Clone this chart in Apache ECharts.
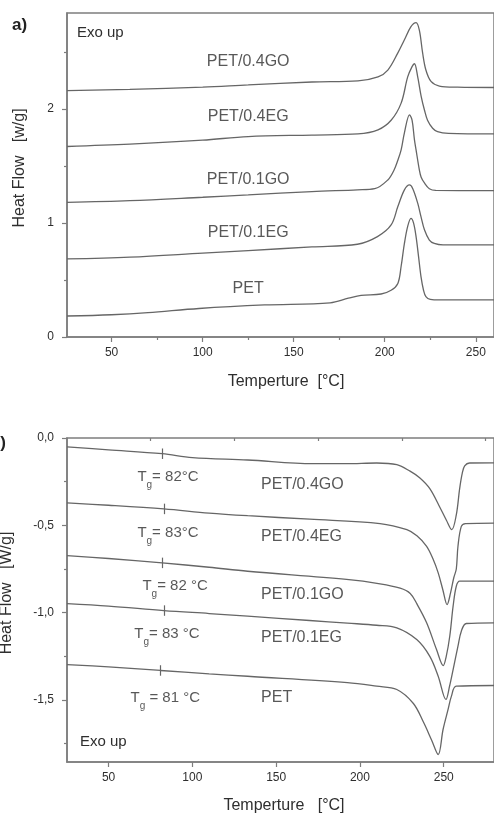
<!DOCTYPE html>
<html>
<head>
<meta charset="utf-8">
<title>DSC curves</title>
<script src="https://cdn.jsdelivr.net/npm/echarts@6/dist/echarts.min.js"></script>
<style>
html, body { margin: 0; padding: 0; background: #fff; }
#chart { width: 494px; height: 816px; }
</style>
</head>
<body>
<div id="chart"></div>
<script>
// ---- panel a) cooling, [temperature, heat flow] ----
const namesA = ['PET/0.4GO', 'PET/0.4EG', 'PET/0.1GO', 'PET/0.1EG', 'PET'];
const a04GO = [[25.5,2.16],[60,2.17],[100,2.19],[125,2.21],[160,2.235],[185.3,2.245],[196.3,2.28],[201.7,2.34],[207.2,2.49],[210.8,2.605],[214.4,2.72],[217.2,2.755],[219,2.69],[220.8,2.49],[222.6,2.34],[225.4,2.24],[230,2.2],[240,2.19],[260,2.187]];
const a04EG = [[25.5,1.67],[60,1.69],[100,1.725],[125,1.757],[160,1.77],[185.3,1.78],[196.3,1.816],[203.5,1.9],[209,2.05],[212.6,2.28],[215,2.37],[216.3,2.395],[218.1,2.28],[220,2.11],[221.8,1.99],[223.5,1.9],[226.3,1.83],[229,1.8],[235,1.785],[260,1.78]];
const a01GO = [[25.5,1.18],[60,1.195],[100,1.225],[125,1.245],[160,1.275],[185,1.29],[194.5,1.3],[201.7,1.377],[205,1.46],[207.2,1.55],[209,1.64],[210.8,1.79],[213.6,1.947],[215,1.9],[216.3,1.73],[217.2,1.64],[219,1.465],[220,1.4],[221.8,1.35],[224.5,1.3],[228,1.285],[260,1.283]];
const a01EG = [[25.5,0.684],[60,0.7],[100,0.735],[125,0.757],[160,0.79],[185,0.813],[196,0.88],[203.5,0.982],[207.2,1.143],[210.8,1.29],[213.6,1.333],[215.4,1.3],[218.1,1.173],[219.9,1.055],[221.8,0.94],[224.5,0.85],[227.2,0.82],[232,0.807],[260,0.807]];
const aPET = [[25.5,0.184],[50,0.195],[70,0.213],[98,0.25],[134,0.281],[170,0.3],[180,0.34],[187,0.365],[198,0.377],[203.5,0.41],[207.2,0.47],[209,0.62],[210.8,0.82],[212.6,0.97],[214.4,1.04],[215.8,1.0],[217.2,0.88],[218.6,0.7],[219.9,0.53],[221.3,0.41],[222.6,0.354],[225,0.33],[230,0.325],[260,0.325]];
const labelXA = [125, 125, 125, 125, 125];
const labelYA = [2.41, 1.93, 1.377, 0.912, 0.42];

// ---- panel b) heating ----
const namesB = ['PET/0.4GO', 'PET/0.4EG', 'PET/0.1GO', 'PET/0.1EG', 'PET'];
const b04GO = [[25.2,-0.051],[50,-0.068],[82,-0.09],[100,-0.112],[133,-0.126],[172,-0.147],[192,-0.147],[210,-0.143],[222,-0.153],[229.9,-0.19],[235.8,-0.229],[241.7,-0.29],[247.6,-0.395],[251.6,-0.471],[254.8,-0.525],[257.5,-0.44],[259.5,-0.29],[261.1,-0.2],[262.5,-0.16],[265.4,-0.143],[280,-0.142]];
const b04EG = [[25.2,-0.372],[50,-0.385],[83,-0.406],[110,-0.43],[133,-0.445],[170,-0.465],[212,-0.49],[228,-0.525],[234,-0.56],[239.8,-0.62],[243.5,-0.69],[246.7,-0.772],[249.5,-0.87],[252,-0.954],[254,-0.89],[256,-0.8],[257.5,-0.75],[258.5,-0.62],[260.5,-0.506],[263,-0.49],[280,-0.487]];
const b01GO = [[25.2,-0.673],[50,-0.69],[82,-0.715],[110,-0.74],[133,-0.763],[192,-0.81],[212,-0.835],[224,-0.86],[230,-0.89],[234,-0.95],[239.8,-1.058],[245.7,-1.211],[249.7,-1.303],[251.5,-1.25],[253.6,-1.135],[255.6,-0.963],[257.5,-0.849],[259.5,-0.82],[280,-0.82]];
const b01EG = [[25.2,-0.948],[50,-0.962],[83,-0.988],[110,-1.005],[133,-1.02],[170,-1.045],[192.5,-1.06],[210,-1.072],[222,-1.087],[233.9,-1.154],[241.7,-1.25],[246.7,-1.364],[251.3,-1.497],[253.5,-1.42],[255.6,-1.326],[258.5,-1.192],[260.5,-1.106],[263.5,-1.062],[280,-1.058]];
const bPET = [[25.2,-1.297],[50,-1.31],[81,-1.331],[110,-1.35],[133,-1.364],[192.5,-1.4],[210,-1.421],[222,-1.44],[231.9,-1.52],[237.8,-1.625],[242.8,-1.73],[246.7,-1.812],[249.6,-1.669],[252.6,-1.554],[254.6,-1.478],[257.5,-1.421],[280,-1.417]];
const labelXB = [141, 141, 141, 141, 141];
const labelYB = [-0.267, -0.563, -0.896, -1.142, -1.485];

// glass transition marks
const tgValues = [82, 83, 82, 83, 81];
const tgCurveY = [-0.09, -0.406, -0.715, -0.988, -1.331];
const tgText = ['= 82°C', '= 83°C', '= 82 °C', '= 83 °C', ' = 81 °C'];
const tgLabelX = [67.2, 67.2, 70.2, 65.4, 63.1];
const tgLabelY = [-0.221, -0.541, -0.845, -1.12, -1.486];

// axis ticks
const xMajor = [50, 100, 150, 200, 250];
const xMinorA = [75, 125, 175, 225];
const xMinorB = [75, 125, 175, 225, 275];
const yMajorA = [0, 1, 2];
const yMinorA = [0.5, 1.5, 2.5];
const yMajorB = [0, -0.5, -1, -1.5];
const yMinorB = [-0.25, -0.75, -1.25, -1.75];

const curvesA = [a04GO, a04EG, a01GO, a01EG, aPET];
const curvesB = [b04GO, b04EG, b01GO, b01EG, bPET];

const FONT = "'Liberation Sans', Arial, sans-serif";
const LINE = '#666';
const AXIS = '#7d7d7d';
const TXT = '#2e2e2e';

const chart = echarts.init(document.getElementById('chart'));

const majorX = (min, max, grid) => ({
    type: 'value', gridIndex: grid, min: min, max: max, position: 'bottom',
    axisLine: { show: true, onZero: false, lineStyle: { color: AXIS, width: 1.5 } },
    axisTick: { show: true, customValues: xMajor, length: 5, lineStyle: { color: AXIS, width: 1.2 } },
    axisLabel: { show: true, customValues: xMajor, margin: 10, fontSize: 12, color: TXT, fontFamily: FONT },
    splitLine: { show: false }
});
const minorX = (min, max, grid, vals) => ({
    type: 'value', gridIndex: grid, min: min, max: max, position: 'bottom',
    axisLine: { show: false },
    axisTick: { show: true, customValues: vals, length: 3, lineStyle: { color: AXIS, width: 1.2 } },
    axisLabel: { show: false },
    splitLine: { show: false }
});
const majorY = (min, max, grid, vals, fmt) => ({
    type: 'value', gridIndex: grid, min: min, max: max, position: 'left',
    axisLine: { show: true, onZero: false, lineStyle: { color: AXIS, width: 1.5 } },
    axisTick: { show: true, customValues: vals, length: 5, lineStyle: { color: AXIS, width: 1.2 } },
    axisLabel: { show: true, customValues: vals, margin: 13, fontSize: 12, color: TXT, fontFamily: FONT, formatter: fmt },
    splitLine: { show: false }
});
const minorY = (min, max, grid, vals) => ({
    type: 'value', gridIndex: grid, min: min, max: max, position: 'left',
    axisLine: { show: false },
    axisTick: { show: true, customValues: vals, length: 3, lineStyle: { color: AXIS, width: 1.2 } },
    axisLabel: { show: false },
    splitLine: { show: false }
});

const series = [];
curvesA.forEach((c, i) => {
    series.push({
        name: 'a ' + namesA[i], type: 'line', xAxisIndex: 0, yAxisIndex: 0,
        data: c, smooth: 0.35, showSymbol: false, silent: true,
        lineStyle: { color: LINE, width: 1.3 }
    });
});
curvesB.forEach((c, i) => {
    series.push({
        name: 'b ' + namesB[i], type: 'line', xAxisIndex: 2, yAxisIndex: 2,
        data: c, smooth: 0.35, showSymbol: false, silent: true,
        lineStyle: { color: LINE, width: 1.3 },
        markLine: {
            symbol: 'none', silent: true, label: { show: false },
            lineStyle: { color: LINE, width: 1.2, type: 'solid' },
            data: [[{ coord: [tgValues[i], tgCurveY[i] + 0.03] }, { coord: [tgValues[i], tgCurveY[i] - 0.03] }]]
        }
    });
});
// curve names
series.push({
    type: 'scatter', xAxisIndex: 0, yAxisIndex: 0, symbolSize: 0, silent: true,
    data: labelXA.map((x, i) => [x, labelYA[i]]),
    label: { show: true, position: 'inside', formatter: p => namesA[p.dataIndex], fontSize: 16, color: TXT, fontFamily: FONT }
});
series.push({
    type: 'scatter', xAxisIndex: 2, yAxisIndex: 2, symbolSize: 0, silent: true,
    data: labelXB.map((x, i) => [x, labelYB[i]]),
    label: { show: true, position: 'right', distance: 0, formatter: p => namesB[p.dataIndex], fontSize: 16, color: TXT, fontFamily: FONT }
});
// Tg labels
series.push({
    type: 'scatter', xAxisIndex: 2, yAxisIndex: 2, symbolSize: 0, silent: true,
    data: tgLabelX.map((x, i) => [x, tgLabelY[i]]),
    label: {
        show: true, position: 'right', distance: 0,
        formatter: p => '{t|T}{g|g}{t|' + tgText[p.dataIndex] + '}',
        rich: {
            t: { fontSize: 15, lineHeight: 16, color: TXT, fontFamily: FONT },
            g: { fontSize: 10, lineHeight: 10, color: TXT, fontFamily: FONT, verticalAlign: 'top', padding: [12, 0, 0, 0] }
        }
    }
});

const option = {
    animation: false,
    backgroundColor: '#fff',
    textStyle: { fontFamily: FONT },
    grid: [
        { left: 67, top: 13, width: 430, height: 324, show: true, borderColor: AXIS, borderWidth: 1.5, backgroundColor: 'transparent' },
        { left: 67, top: 438, width: 431, height: 324, show: true, borderColor: AXIS, borderWidth: 1.5, backgroundColor: 'transparent' }
    ],
    xAxis: [
        majorX(25.5, 260, 0),
        minorX(25.5, 260, 0, xMinorA),
        majorX(25.2, 280, 1),
        minorX(25.2, 280, 1, xMinorB)
    ],
    yAxis: [
        majorY(0, 2.84, 0, yMajorA, v => String(v)),
        minorY(0, 2.84, 0, yMinorA),
        majorY(-1.855, 0, 1, yMajorB, v => v.toFixed(1).replace('.', ',')),
        minorY(-1.855, 0, 1, yMinorB)
    ],
    graphic: [
        { type: 'text', left: 12, top: 17, style: { text: 'a)', font: "bold 17px " + FONT, fill: '#222' } },
        { type: 'text', x: 6, y: 443, style: { text: 'b)', font: "bold 17px " + FONT, fill: '#222', align: 'right', verticalAlign: 'middle' } },
        { type: 'text', x: 77, y: 33, style: { text: 'Exo up', font: "15px " + FONT, fill: TXT, verticalAlign: 'middle' } },
        { type: 'text', x: 80, y: 742, style: { text: 'Exo up', font: "15px " + FONT, fill: TXT, verticalAlign: 'middle' } },
        { type: 'text', x: 20, y: 168, rotation: Math.PI / 2, style: { text: 'Heat Flow   [w/g]', font: "16px " + FONT, fill: TXT, align: 'center', verticalAlign: 'middle' } },
        { type: 'text', x: 7, y: 593, rotation: Math.PI / 2, style: { text: 'Heat Flow   [W/g]', font: "16px " + FONT, fill: TXT, align: 'center', verticalAlign: 'middle' } },
        { type: 'text', x: 286, y: 382, style: { text: 'Temperture  [°C]', font: "16px " + FONT, fill: TXT, align: 'center', verticalAlign: 'middle' } },
        { type: 'text', x: 284, y: 806, style: { text: 'Temperture   [°C]', font: "16px " + FONT, fill: TXT, align: 'center', verticalAlign: 'middle' } }
    ],
    series: series
};
chart.setOption(option);
</script>
</body>
</html>
